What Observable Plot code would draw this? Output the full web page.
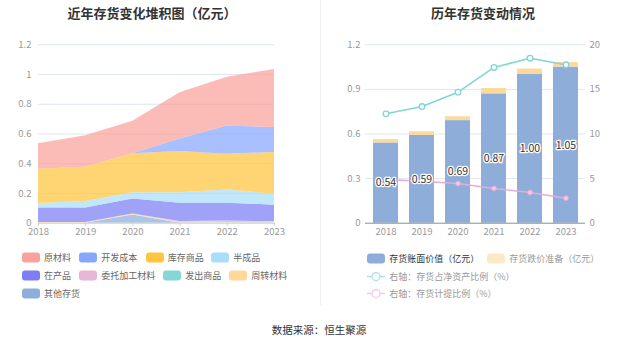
<!DOCTYPE html>
<html>
<head>
<meta charset="utf-8">
<script src="https://cdn.jsdelivr.net/npm/d3@7"></script>
<script src="https://cdn.jsdelivr.net/npm/@observablehq/plot@0.6"></script>
<style>
  html, body { margin: 0; padding: 0; background: #fff; }
  body { width: 637px; height: 344px; position: relative; overflow: hidden;
         font-family: "Noto Sans CJK SC", "Noto Sans", sans-serif; }
  .abs { position: absolute; }
  .title { font-size: 13px; font-weight: bold; color: #333; transform: translate(-50%, -50%); white-space: nowrap; }
  .leg { position: absolute; display: flex; align-items: center; font-size: 9px; color: #666; white-space: nowrap; transform: translateY(-50%); }
  .sw { width: 18px; height: 10px; border-radius: 3px; margin-right: 4px; }
  .src { font-size: 10.5px; color: #333; transform: translate(-50%, -50%); white-space: nowrap; }
</style>
</head>
<body>
<div id="root"></div>
<script>
// ---------------- Data ----------------
const years = [2018, 2019, 2020, 2021, 2022, 2023];

// 近年存货变化堆积图（亿元） — series values (per year)
const rawMaterial   = [0.171, 0.211, 0.219, 0.310, 0.329, 0.390]; // 原材料
const devCost       = [0.000, 0.000, 0.000, 0.085, 0.189, 0.168]; // 开发成本
const stockGoods    = [0.231, 0.231, 0.263, 0.278, 0.240, 0.281]; // 库存商品
const semiFinished  = [0.029, 0.043, 0.042, 0.069, 0.089, 0.074]; // 半成品
const wip           = [0.099, 0.099, 0.100, 0.124, 0.121, 0.110]; // 在产品
const consigned     = [0.000, 0.000, 0.000, 0.008, 0.003, 0.003]; // 委托加工材料
const shippedGoods  = [0.000, 0.000, 0.000, 0.000, 0.008, 0.005]; // 发出商品
const turnover      = [0.004, 0.004, 0.007, 0.003, 0.003, 0.003]; // 周转材料
const otherInv      = [0.000, 0.000, 0.055, 0.000, 0.000, 0.000]; // 其他存货

const seriesNames  = ["原材料", "开发成本", "库存商品", "半成品", "在产品", "委托加工材料", "发出商品", "周转材料", "其他存货"];
const seriesValues = [rawMaterial, devCost, stockGoods, semiFinished, wip, consigned, shippedGoods, turnover, otherInv];
const seriesColors = ["#f9a19a", "#87a7ff", "#ffc53f", "#a9defa", "#7b7ef5", "#e8b6d6", "#85d6d6", "#ffd89a", "#8eaedb"];

// 历年存货变动情况
const bookValue      = [0.54, 0.59, 0.69, 0.87, 1.00, 1.05]; // 存货账面价值（亿元）
const provision      = [0.023, 0.025, 0.026, 0.036, 0.037, 0.030]; // 存货跌价准备（亿元）
const invToNetAssets = [12.26, 13.08, 14.69, 17.46, 18.50, 17.76]; // 存货占净资产比例（%）
const provRatio      = [4.90, 4.71, 4.45, 3.89, 3.44, 2.80]; // 存货计提比例（%）

const leftTicks  = [0, 0.2, 0.4, 0.6, 0.8, 1, 1.2];
const rightTicks = [0, 0.3, 0.6, 0.9, 1.2];
const rightAxisMax = 20;

// ---------------- Layout helpers ----------------
const root = document.getElementById("root");
function add(html) { const d = document.createElement("div"); d.innerHTML = html; const el = d.firstElementChild; root.appendChild(el); return el; }

add(`<div class="abs" style="left:320px;top:0;width:1px;height:305px;background:#eeeeee"></div>`);
add(`<div class="abs title" style="left:152px;top:11.5px">近年存货变化堆积图（亿元）</div>`);
add(`<div class="abs title" style="left:483px;top:11.5px">历年存货变动情况</div>`);

const font = "'Noto Sans CJK SC', 'Noto Sans', sans-serif";
const gridColor = "#e0e6f1";
const tickText = "#999";

// ---------------- Left: stacked area ----------------
const stackData = [];
for (let s = seriesNames.length - 1; s >= 0; s--) {
  years.forEach((y, i) => stackData.push({ year: y, series: seriesNames[s], value: seriesValues[s][i] }));
}

const left = Plot.plot({
  width: 300, height: 212,
  marginLeft: 38, marginRight: 26, marginTop: 14.3, marginBottom: 19.3,
  style: { fontFamily: font, fontSize: "9.5px", background: "transparent", overflow: "visible" },
  x: { type: "linear", domain: [2018, 2023] },
  y: { domain: [0, 1.2] },
  color: { domain: seriesNames, range: seriesColors },
  marks: [
    Plot.gridY(leftTicks.slice(1), { stroke: gridColor, strokeOpacity: 1 }),
    Plot.areaY(stackData, Plot.stackY({ order: seriesNames.slice().reverse() }, {
      x: "year", y: "value", z: "series", fill: "series", fillOpacity: 0.72
    })),
    Plot.ruleY([0], { stroke: "#c8ccd4" }),
    Plot.axisX({ ticks: years, tickFormat: d => String(d), tickSize: 3, tickPadding: 2, stroke: "#c8ccd4", fill: tickText, label: null }),
    Plot.axisY({ ticks: leftTicks, tickFormat: d => String(+d.toFixed(1)), tickSize: 0, tickPadding: 7, fill: tickText, label: null })
  ]
});
left.style.position = "absolute"; left.style.left = "0px"; left.style.top = "30px";
root.appendChild(left);

// ---------------- Right: bars + lines ----------------
const k = 1.2 / rightAxisMax;
const rData = years.map((y, i) => ({
  year: String(y), book: bookValue[i], prov: provision[i],
  asset: invToNetAssets[i], ratio: provRatio[i]
}));

const right = Plot.plot({
  width: 317, height: 212,
  marginLeft: 45, marginRight: 52, marginTop: 14.3, marginBottom: 19.3,
  style: { fontFamily: font, fontSize: "9.5px", background: "transparent", overflow: "visible" },
  x: { type: "band", domain: years.map(String), paddingInner: 0.318, paddingOuter: 0.159 },
  y: { domain: [0, 1.2] },
  marks: [
    Plot.gridY(rightTicks.slice(1), { stroke: gridColor, strokeOpacity: 1 }),
    Plot.barY(rData, { x: "year", y1: 0, y2: "book", fill: "#8eadd9" }),
    Plot.barY(rData, { x: "year", y1: "book", y2: d => d.book + d.prov, fill: "#fed99c" }),
    Plot.ruleY([0], { stroke: "#888d96" }),
    Plot.line(rData, { x: "year", y: d => d.asset * k, stroke: "#82d6d8", strokeWidth: 1.6 }),
    Plot.dot(rData, { x: "year", y: d => d.asset * k, r: 2.8, fill: "#fff", stroke: "#82d6d8", strokeWidth: 1.3 }),
    Plot.line(rData, { x: "year", y: d => d.ratio * k, stroke: "#e4acd8", strokeWidth: 1.6 }),
    Plot.dot(rData, { x: "year", y: d => d.ratio * k, r: 2.4, fill: "#f1c9e6", stroke: "#e4acd8", strokeWidth: 1 }),
    Plot.text(rData, { x: "year", y: d => d.book / 2, text: d => d.book.toFixed(2), fontSize: 10.5,
      fill: "#333", stroke: "#fff", strokeWidth: 2.5, paintOrder: "stroke" }),
    Plot.axisX({ tickSize: 0, tickPadding: 5, fill: tickText, label: null }),
    Plot.axisY({ ticks: rightTicks, tickFormat: d => String(+d.toFixed(1)), tickSize: 0, tickPadding: 5, fill: tickText, label: null }),
    Plot.axisY({ anchor: "right", ticks: rightTicks, tickFormat: d => String(Math.round(d / k)), tickSize: 0, tickPadding: 4, fill: tickText, label: null })
  ]
});
right.style.position = "absolute"; right.style.left = "320px"; right.style.top = "30px";
root.appendChild(right);

// ---------------- Legends ----------------
const leftLegendPos = [
  [22, 257.3], [79.3, 257.3], [145.7, 257.3], [211.3, 257.3],
  [22, 275.3], [79.3, 275.3], [163.3, 275.3], [229.3, 275.3],
  [22, 293.3]
];
seriesNames.forEach((n, i) => {
  const [x, y] = leftLegendPos[i];
  add(`<div class="leg" style="left:${x}px;top:${y}px"><div class="sw" style="background:${seriesColors[i]}"></div>${n}</div>`);
});

add(`<div class="leg" style="left:367.3px;top:258.3px;color:#333"><div class="sw" style="background:#8eadd9"></div>存货账面价值（亿元）</div>`);
add(`<div class="leg" style="left:487.3px;top:258.3px;color:#999"><div class="sw" style="background:#fde8c8"></div>存货跌价准备（亿元）</div>`);
function lineIcon(c) {
  return `<svg width="18" height="10" style="margin-right:4px"><line x1="0" y1="5" x2="18" y2="5" stroke="${c}" stroke-width="1.5"/><circle cx="9" cy="5" r="4" fill="#fff" stroke="${c}" stroke-width="1.3"/></svg>`;
}
add(`<div class="leg" style="left:367.3px;top:276px;color:#999">${lineIcon("#a9e3e4")}右轴：存货占净资产比例（%）</div>`);
add(`<div class="leg" style="left:367.3px;top:293.3px;color:#999">${lineIcon("#f2cbe7")}右轴：存货计提比例（%）</div>`);

add(`<div class="abs src" style="left:319px;top:328.5px">数据来源：恒生聚源</div>`);
</script>
</body>
</html>
